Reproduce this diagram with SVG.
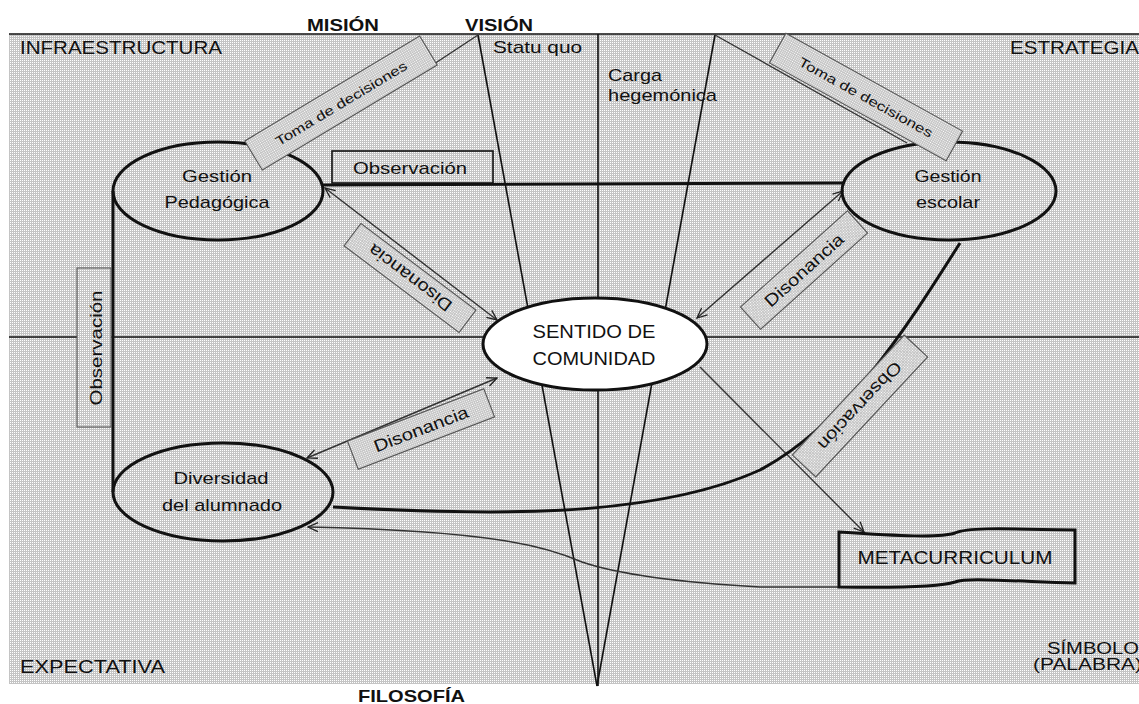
<svg xmlns="http://www.w3.org/2000/svg" width="1139" height="704" viewBox="0 0 1139 704">
  <defs>
    <pattern id="dots" width="2" height="2" patternUnits="userSpaceOnUse">
      <rect width="2" height="2" fill="#c4c4c4"/>
      <rect width="1" height="1" fill="#ffffff"/>
    </pattern>
    <marker id="arr" viewBox="0 0 12 12" refX="11" refY="6" markerWidth="12" markerHeight="12" orient="auto-start-reverse" markerUnits="userSpaceOnUse">
      <path d="M1,1.5 L11,6 L1,10.5" fill="none" stroke="#222" stroke-width="1.3"/>
    </marker>
    <style>
      text { font-family: "Liberation Sans", Arial, sans-serif; fill: #111; }
      .lbl { font-size: 17px; }
      .big { font-size: 18px; }
      .mid { font-size: 16px; }
      .ttl { font-size: 17px; font-weight: bold; }
      .small { font-size: 13px; }
      .thin { fill: none; stroke: #333; stroke-width: 1.4; }
      .thick { fill: none; stroke: #111; stroke-width: 3; }
      .ell { fill: none; stroke: #111; stroke-width: 3; }
      .box { fill: url(#dots); stroke: #555; stroke-width: 1.1; }
      .axis { fill: none; stroke: #111; stroke-width: 1.6; }
    </style>
  </defs>

  <rect width="1139" height="704" fill="#ffffff"/>
  <rect x="9" y="34" width="1130" height="650" fill="url(#dots)"/>

  <g id="axes">
    <line class="axis" x1="9" y1="34" x2="1139" y2="34" stroke-width="2.5"/>
    <line class="axis" x1="9" y1="337" x2="1139" y2="337"/>
    <line class="axis" x1="598" y1="34" x2="598" y2="686"/>
    <line class="axis" x1="478" y1="35" x2="597" y2="686" stroke="#2a2a2a"/>
    <line class="axis" x1="715" y1="35" x2="597" y2="686" stroke="#2a2a2a"/>
  </g>

  <g id="corner-labels">
    <text class="big" x="20" y="54" textLength="202" lengthAdjust="spacingAndGlyphs">INFRAESTRUCTURA</text>
    <text class="big" x="1010" y="54" textLength="129" lengthAdjust="spacingAndGlyphs">ESTRATEGIA</text>
    <text class="big" x="20" y="673" textLength="145" lengthAdjust="spacingAndGlyphs">EXPECTATIVA</text>
    <text class="mid" x="1047" y="654" textLength="92" lengthAdjust="spacingAndGlyphs">SÍMBOLO</text>
    <text class="mid" x="1033" y="670" textLength="109" lengthAdjust="spacingAndGlyphs">(PALABRA)</text>
    <text class="lbl" x="493" y="53" textLength="89" lengthAdjust="spacingAndGlyphs">Statu quo</text>
    <text class="lbl" x="608" y="81" textLength="54" lengthAdjust="spacingAndGlyphs">Carga</text>
    <text class="lbl" x="608" y="101" textLength="109" lengthAdjust="spacingAndGlyphs">hegemónica</text>
    <text class="ttl" x="307" y="31" textLength="72" lengthAdjust="spacingAndGlyphs">MISIÓN</text>
    <text class="ttl" x="465" y="31" textLength="68" lengthAdjust="spacingAndGlyphs">VISIÓN</text>
    <text class="ttl" x="358" y="702" textLength="107" lengthAdjust="spacingAndGlyphs">FILOSOFÍA</text>
  </g>

  <g id="connectors">
    <line class="thin" x1="478" y1="35" x2="437" y2="62"/>
    <line class="thin" x1="437" y1="62" x2="262" y2="166"/>
    <line class="thin" x1="715" y1="35" x2="907" y2="143"/>
    <line class="thick" x1="323" y1="185" x2="843" y2="183"/>
    <line class="thick" x1="113" y1="191" x2="113" y2="492"/>
    <line class="thin" x1="325" y1="188" x2="497" y2="320" marker-start="url(#arr)" marker-end="url(#arr)"/>
    <line class="thin" x1="843" y1="191" x2="697" y2="318" marker-start="url(#arr)" marker-end="url(#arr)"/>
    <line class="thin" x1="497" y1="378" x2="307" y2="458" marker-start="url(#arr)" marker-end="url(#arr)"/>
    <line class="thin" x1="700" y1="367" x2="864" y2="532" marker-end="url(#arr)"/>
    <path class="thick" d="M333,507 C480,515 650,520 760,470 C845,425 905,330 960,243"/>
    <path class="thin" d="M839,587 L760,587 C690,583 620,575 582,562 C550,548 500,531 308,527" marker-end="url(#arr)"/>
  </g>

  <g id="node-gestion-pedagogica">
    <ellipse class="ell" cx="218" cy="191" rx="105" ry="49"/>
    <text class="lbl" x="217" y="182" text-anchor="middle" textLength="70" lengthAdjust="spacingAndGlyphs">Gestión</text>
    <text class="lbl" x="217" y="208" text-anchor="middle" textLength="105" lengthAdjust="spacingAndGlyphs">Pedagógica</text>
  </g>

  <g id="node-gestion-escolar">
    <ellipse class="ell" cx="949" cy="191" rx="107" ry="49"/>
    <text class="lbl" x="948" y="182" text-anchor="middle" textLength="67" lengthAdjust="spacingAndGlyphs">Gestión</text>
    <text class="lbl" x="948" y="208" text-anchor="middle" textLength="64" lengthAdjust="spacingAndGlyphs">escolar</text>
  </g>

  <g id="node-diversidad">
    <ellipse class="ell" cx="223" cy="492" rx="110" ry="49"/>
    <text class="lbl" x="221" y="484" text-anchor="middle" textLength="95" lengthAdjust="spacingAndGlyphs">Diversidad</text>
    <text class="lbl" x="222" y="511" text-anchor="middle" textLength="120" lengthAdjust="spacingAndGlyphs">del alumnado</text>
  </g>

  <g id="node-sentido">
    <ellipse cx="595" cy="344" rx="112" ry="46" fill="#ffffff" stroke="#111" stroke-width="3"/>
    <text class="big" x="594" y="338" text-anchor="middle" textLength="123" lengthAdjust="spacingAndGlyphs">SENTIDO DE</text>
    <text class="big" x="594" y="365" text-anchor="middle" textLength="123" lengthAdjust="spacingAndGlyphs">COMUNIDAD</text>
  </g>

  <g id="node-metacurriculum">
    <path d="M839,532 C900,536 940,538 955,533 C966,528 990,528 1075,530 L1075,583 C990,580 966,578 955,582 C940,587 900,588 839,587 Z" fill="none" stroke="#111" stroke-width="3"/>
    <text class="big" x="955" y="564" text-anchor="middle" textLength="195" lengthAdjust="spacingAndGlyphs">METACURRICULUM</text>
  </g>

  <g id="labels">
    <g id="label-toma-izq" transform="translate(341,103) rotate(-31)">
      <rect class="box" x="-102" y="-17" width="204" height="34"/>
      <text class="small" x="0" y="5" text-anchor="middle" textLength="151" lengthAdjust="spacingAndGlyphs">Toma de decisiones</text>
    </g>
    <g id="label-toma-der" transform="translate(866,97) rotate(29)">
      <rect class="box" x="-101" y="-17" width="202" height="34"/>
      <text class="small" x="0" y="5" text-anchor="middle" textLength="151" lengthAdjust="spacingAndGlyphs">Toma de decisiones</text>
    </g>
    <g id="label-observacion-top">
      <rect x="332" y="151" width="161" height="32" fill="url(#dots)" stroke="#111" stroke-width="1.6"/>
      <text class="lbl" x="410" y="174" text-anchor="middle" textLength="114" lengthAdjust="spacingAndGlyphs">Observación</text>
    </g>
    <g id="label-observacion-left">
      <rect x="77" y="268" width="34" height="159" fill="url(#dots)" stroke="#555" stroke-width="1.1"/>
      <text class="lbl" transform="translate(102,348) rotate(-90)" x="0" y="0" text-anchor="middle" textLength="115" lengthAdjust="spacingAndGlyphs">Observación</text>
    </g>
    <g id="label-disonancia-1" transform="translate(410,278) rotate(37)">
      <rect class="box" x="-72" y="-14" width="144" height="28"/>
      <text class="lbl" transform="rotate(180)" x="0" y="6" text-anchor="middle" textLength="100" lengthAdjust="spacingAndGlyphs">Disonancia</text>
    </g>
    <g id="label-disonancia-2" transform="translate(804,270) rotate(-42)">
      <rect class="box" x="-72" y="-15" width="144" height="30"/>
      <text class="lbl" x="0" y="6" text-anchor="middle" textLength="100" lengthAdjust="spacingAndGlyphs">Disonancia</text>
    </g>
    <g id="label-disonancia-3" transform="translate(421,429) rotate(-21)">
      <rect class="box" x="-73" y="-15" width="146" height="30"/>
      <text class="lbl" x="0" y="6" text-anchor="middle" textLength="100" lengthAdjust="spacingAndGlyphs">Disonancia</text>
    </g>
    <g id="label-observacion-curve" transform="translate(860,406) rotate(-47)">
      <rect class="box" x="-82" y="-16" width="164" height="32"/>
      <text class="lbl" transform="rotate(180)" x="0" y="6" text-anchor="middle" textLength="114" lengthAdjust="spacingAndGlyphs">Observación</text>
    </g>
  </g>
</svg>
